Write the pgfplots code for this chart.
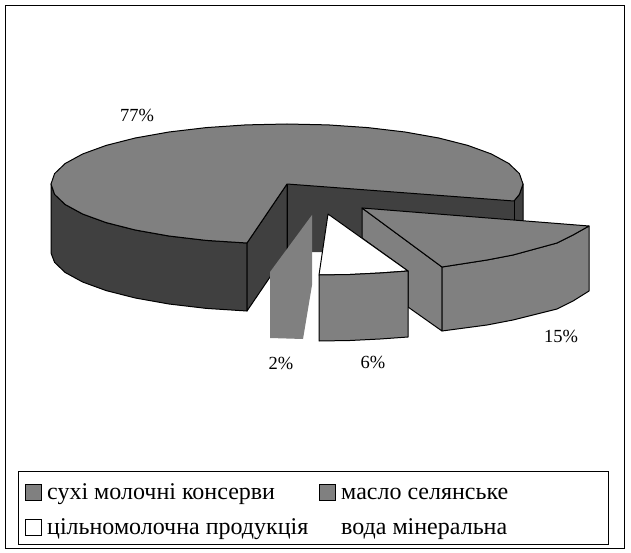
\documentclass[border=0pt]{standalone}
\usepackage{fontspec}
\setmainfont{Liberation Serif}
\usepackage{pgfplots}
\pgfplotsset{compat=1.18}
\definecolor{topgray}{HTML}{808080}
\definecolor{wallgray}{HTML}{404040}
\begin{document}
\begin{tikzpicture}[
    pie/.style={draw=black,line width=1pt,line join=round},
    lab/.style={font=\fontsize{18.5}{18.5}\selectfont,inner sep=0pt,text=black},
    leg/.style={font=\fontsize{24}{24}\selectfont,inner sep=0pt,anchor=base west,text=black},
]
\begin{axis}[
    scale only axis,
    width=631pt,
    height=553pt,
    xmin=0, xmax=631,
    ymin=0, ymax=553,
    y dir=reverse,
    enlargelimits=false,
    hide axis,
    clip=false,
]
% keeps the page at the full size
\addplot[draw=none,fill=white] coordinates {(0,0) (631,0) (631,553) (0,553)} --cycle;
% outer frame
\addplot[draw=black,line width=1pt,fill=white] coordinates {(5,5.5) (624,5.5) (624,548) (5,548)} --cycle;

% big slice, 77%: outer wall
\addplot[pie,fill=wallgray] coordinates {
    (247,243) (206.3,240.4) (169,236) (135.3,230) (106.2,222.6) (82.6,214) (65.2,204.5) (54.6,194.4) (51,184)
    (51,253) (54.6,262.4) (65.2,272.5) (82.6,282) (106.2,290.6) (135.3,298) (169,304) (206.3,308.4) (247,311)
} --cycle;
% far right bit of the wall
\addplot[pie,fill=wallgray] coordinates {(514,201) (516,198.5) (519.4,194.4) (523,184) (523,226) (514,226)} --cycle;
% inner walls of the gap
\addplot[pie,fill=wallgray] coordinates {(287,184) (247,243) (247,311) (287,252)} --cycle;
\addplot[draw=none,fill=wallgray] coordinates {(287,184) (514,201) (514,226) (362,226) (362,240) (322,252) (287,252)} --cycle;
\addplot[pie] coordinates {(514,201) (514,222)};
\addplot[pie] coordinates {(287,184) (287,252)};
% big slice: top
\addplot[pie,fill=topgray] coordinates {
    (287,184) (247,243) (206.3,240.4) (169,236) (135.3,230) (106.2,222.6) (82.6,214) (65.2,204.5) (54.6,194.4) (51,184)
    (54.6,173.6) (65.2,163.5) (82.6,154) (106.2,145.4) (135.3,138) (169,132) (206.3,127.6) (246,124.9) (287,124)
    (328,124.9) (367.7,127.6) (405,132) (438.7,138) (467.8,145.4) (491.4,154) (508.8,163.5) (519.4,173.6) (523,184)
    (519.4,194.4) (516,198.5) (514,201)
} --cycle;

% 15% slice
\addplot[pie,fill=topgray] coordinates {(362,208) (442,267) (442,331) (408,307) (408,271) (362,238)} --cycle;
\addplot[pie,fill=topgray] coordinates {(442,267) (487,260) (513,255) (557,243) (573,235) (589,226) (589,291) (573,301) (557,309) (513,320) (487,325) (442,331)} --cycle;
\addplot[pie,fill=topgray] coordinates {(362,208) (589,226) (573,235) (557,243) (513,255) (487,260) (442,267)} --cycle;

% 6% slice
\addplot[pie,fill=white] coordinates {(328,214) (408,271) (380,273) (350,274.5) (319,275)} --cycle;
\addplot[pie,fill=topgray] coordinates {(319,275) (350,274.5) (380,273) (408,271) (408,337) (380,339) (350,340.5) (319,341)} --cycle;

% 2% slice, drawn without an outline
\addplot[draw=none,fill=topgray] coordinates {(312,215) (270,272) (270,338) (303,339) (312,285)} --cycle;

% legend box and keys
\addplot[draw=black,line width=1pt,fill=white] coordinates {(18,471.5) (608,471.5) (608,544) (18,544)} --cycle;
\addplot[draw=black,line width=1pt,fill=topgray] coordinates {(25,484) (41,484) (41,500) (25,500)} --cycle;
\addplot[draw=black,line width=1pt,fill=topgray] coordinates {(319,484) (335,484) (335,500) (319,500)} --cycle;
\addplot[draw=black,line width=1pt,fill=white] coordinates {(25,519) (41,519) (41,535) (25,535)} --cycle;

\node[lab] at (axis cs:137,115) {77\%};
\node[lab] at (axis cs:561,336) {15\%};
\node[lab] at (axis cs:281,363) {2\%};
\node[lab] at (axis cs:373,362) {6\%};

\node[leg] at (axis cs:47,499) {сухі молочні консерви};
\node[leg] at (axis cs:341,499) {масло селянське};
\node[leg] at (axis cs:47,534) {цільномолочна продукція};
\node[leg] at (axis cs:341,534) {вода мінеральна};
\end{axis}
\end{tikzpicture}
\end{document}
